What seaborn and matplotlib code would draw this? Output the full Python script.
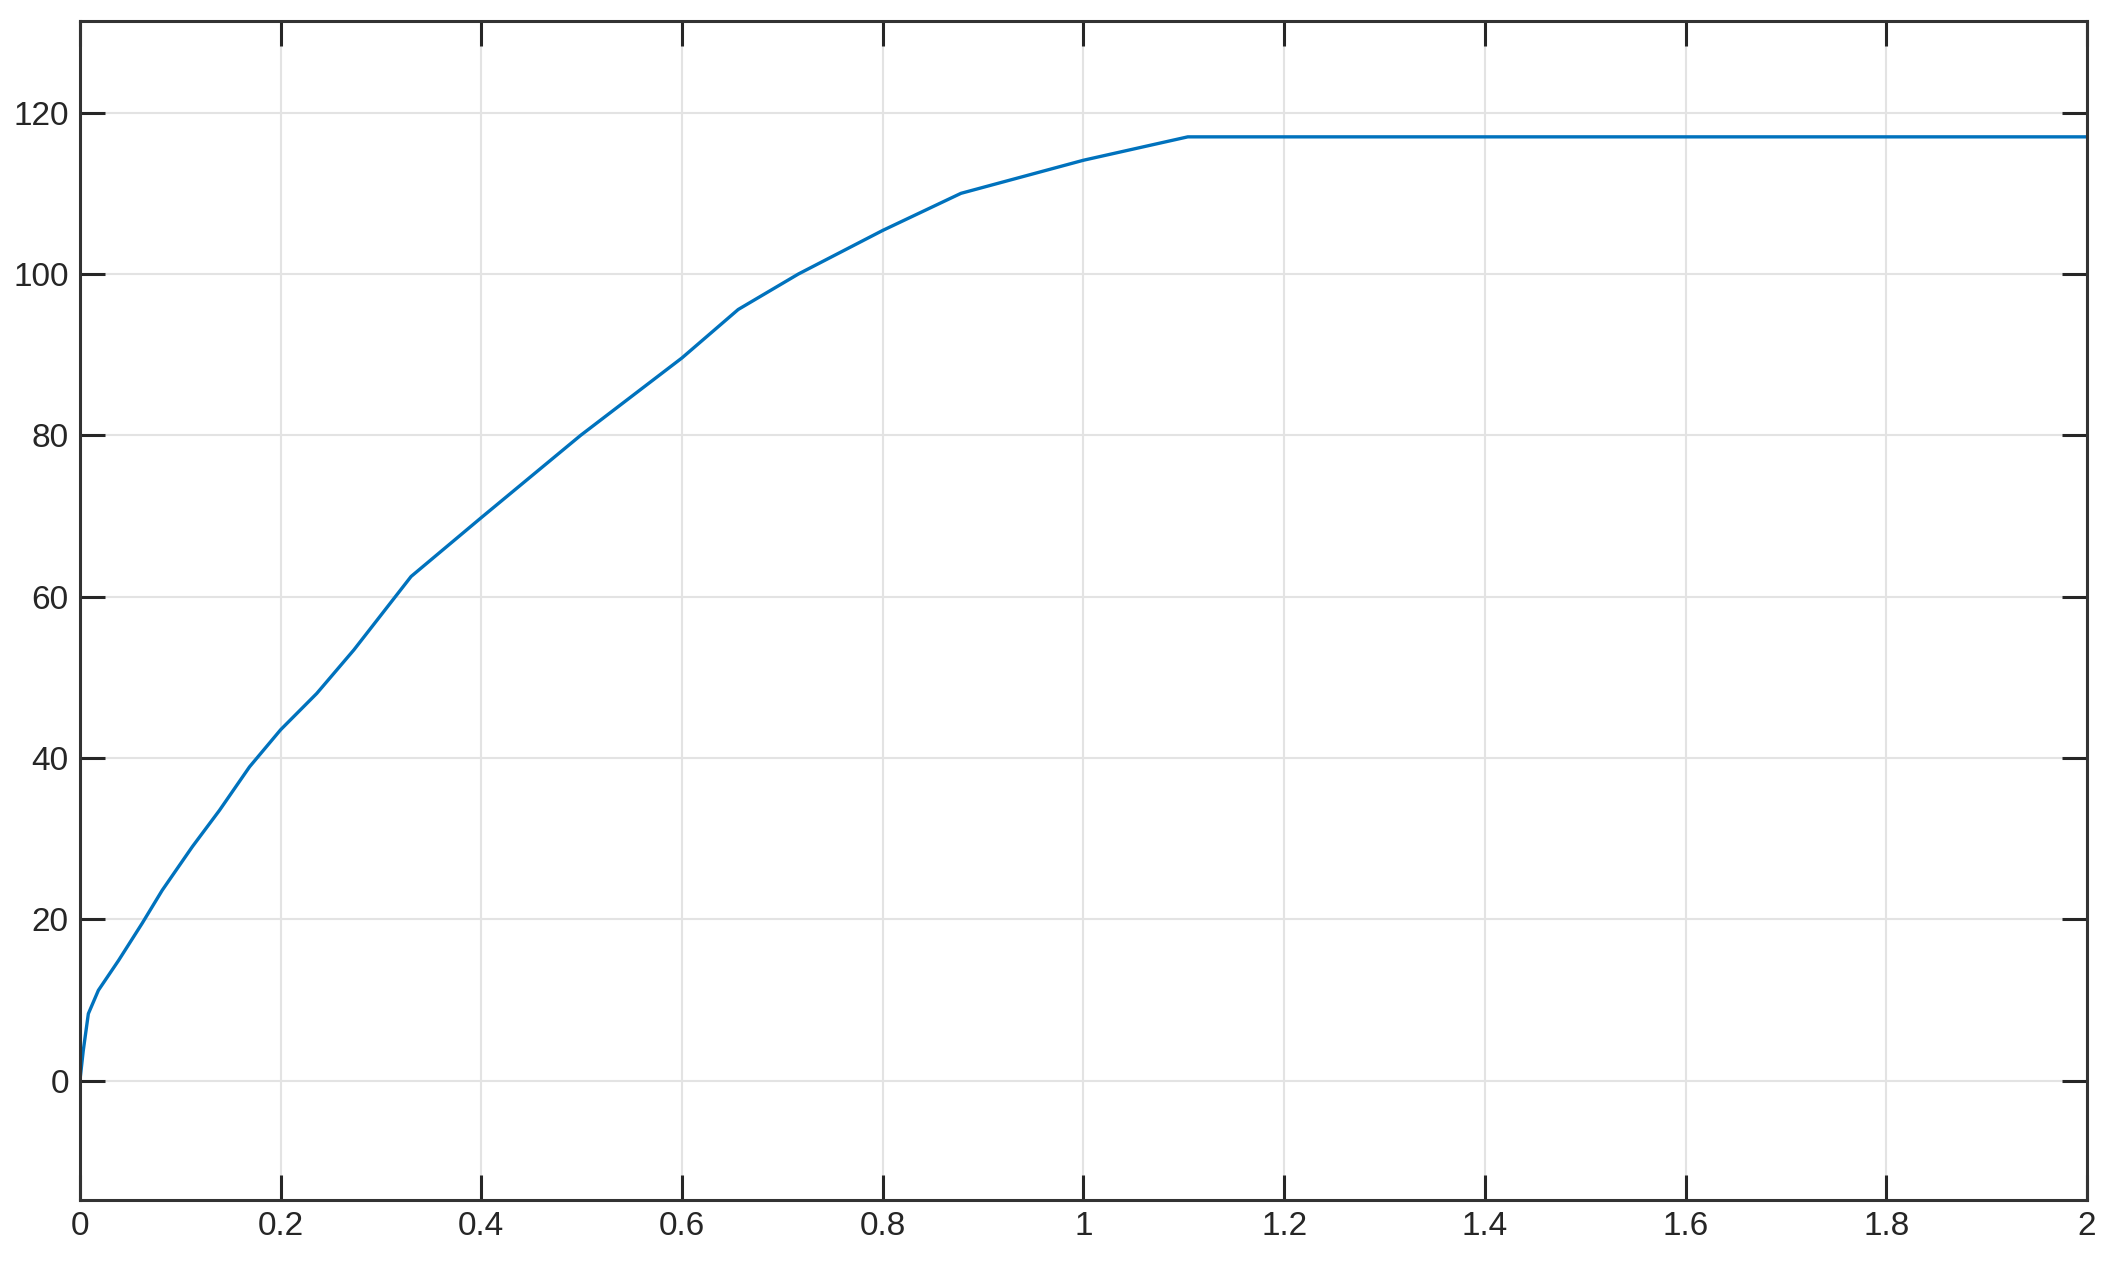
import pandas as pd
import numpy as np
import matplotlib
matplotlib.use('Agg')
import matplotlib.pyplot as plt
import seaborn as sns

# curve
time = [0, 0.0033, 0.0084, 0.0184, 0.0385, 0.062, 0.082, 0.112, 0.139, 0.169,
        0.2, 0.236, 0.273, 0.33, 0.4, 0.499, 0.6, 0.656, 0.716, 0.8, 0.878,
        1.0, 1.104, 2.0]
value = [0, 3.7, 8.3, 11.2, 14.9, 19.5, 23.6, 29.0, 33.5, 38.9,
         43.5, 48.0, 53.4, 62.5, 69.8, 80.0, 89.6, 95.6, 100.0, 105.4, 110.0,
         114.1, 117.0, 117.0]
x_ticks = [0, 0.2, 0.4, 0.6, 0.8, 1, 1.2, 1.4, 1.6, 1.8, 2]
y_ticks = [0, 20, 40, 60, 80, 100, 120]

df = pd.DataFrame({'t': time, 'y': value})

sns.set_style('white')
plt.rcParams['font.family'] = ['Liberation Sans', 'DejaVu Sans']

fig = plt.figure(figsize=(21.2, 12.62), dpi=100)
ax = fig.add_axes([0.0377, 0.0491, 0.9467, 0.9345])

sns.lineplot(data=df, x='t', y='y', ax=ax, color='#0072BD', linewidth=2.4)

ax.set_xlim(0, 2)
ax.set_ylim(-14.8, 131.4)
ax.set_xticks(x_ticks)
ax.set_yticks(y_ticks)
ax.set_xticklabels(['%g' % v for v in x_ticks])
ax.set_yticklabels(['%g' % v for v in y_ticks])
ax.set_xlabel('')
ax.set_ylabel('')

# matlab style box with inward ticks and light grid
ax.grid(True, color='#e3e3e3', linewidth=1.5)
for s in ax.spines.values():
    s.set_visible(True)
    s.set_color('#333333')
    s.set_linewidth(2.2)
ax.tick_params(direction='in', length=18, width=2.2, color='#262626',
               top=True, right=True, bottom=True, left=True,
               labelsize=24, labelcolor='#262626', pad=8)

fig.savefig('out.png', dpi=100)
